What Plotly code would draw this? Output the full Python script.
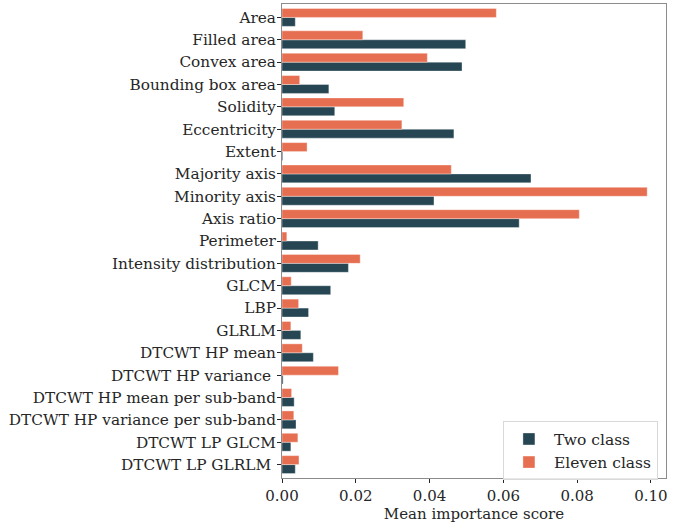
import plotly.graph_objects as go

# Feature groups, listed top to bottom
features = [
    "Area", "Filled area", "Convex area", "Bounding box area", "Solidity",
    "Eccentricity", "Extent", "Majority axis", "Minority axis", "Axis ratio",
    "Perimeter", "Intensity distribution", "GLCM", "LBP", "GLRLM",
    "DTCWT HP mean", "DTCWT HP variance ", "DTCWT HP mean per sub-band",
    "DTCWT HP variance per sub-band", "DTCWT LP GLCM", "DTCWT LP GLRLM ",
]

# Mean importance scores per feature group
two_class = [
    0.0036, 0.0498, 0.0488, 0.0127, 0.0143,
    0.0466, 0.0002, 0.0675, 0.0412, 0.0643,
    0.0098, 0.0180, 0.0132, 0.0072, 0.0051,
    0.0085, 0.0003, 0.0033, 0.0038, 0.0024, 0.0036,
]
eleven_class = [
    0.0581, 0.0219, 0.0394, 0.0048, 0.0330,
    0.0325, 0.0068, 0.0459, 0.0990, 0.0806,
    0.0013, 0.0212, 0.0025, 0.0045, 0.0024,
    0.0055, 0.0153, 0.0026, 0.0032, 0.0043, 0.0046,
]

x_ticks = [0.0, 0.02, 0.04, 0.06, 0.08, 0.10]

DARK = "#264653"
ORANGE = "#e76f51"
FONT = "DejaVu Serif"
TEXT = "#262626"

fig = go.Figure()
fig.add_trace(go.Bar(
    y=features, x=two_class, orientation="h", name="Two class",
    marker=dict(color=DARK, line=dict(color="rgba(255,255,255,0.6)", width=0.6)),
))
fig.add_trace(go.Bar(
    y=features, x=eleven_class, orientation="h", name="Eleven class",
    marker=dict(color=ORANGE, line=dict(color="rgba(255,255,255,0.6)", width=0.6)),
))

fig.update_layout(
    width=684, height=523,
    margin=dict(l=282, r=18, t=3, b=39),
    paper_bgcolor="white", plot_bgcolor="white",
    barmode="group", bargap=0.2, bargroupgap=0,
    font=dict(family=FONT, size=15, color=TEXT),
    showlegend=True,
    legend=dict(
        x=0.979, y=-0.005, xanchor="right", yanchor="bottom",
        bgcolor="rgba(255,255,255,0.8)", bordercolor="#d9d9d9", borderwidth=1,
        font=dict(family=FONT, size=15.5, color=TEXT),
        traceorder="normal", itemwidth=40,
    ),
)

fig.update_xaxes(
    range=[0, 0.1041], tickvals=x_ticks, tickformat=".2f",
    ticks="outside", ticklen=4, tickcolor=TEXT,
    showgrid=False, zeroline=False,
    showline=True, linecolor="#8c8c8c", linewidth=1, mirror=True,
    title=dict(text="Mean importance score", font=dict(family=FONT, size=15, color=TEXT), standoff=4),
    tickfont=dict(family=FONT, size=15, color=TEXT),
)
fig.update_yaxes(
    type="category", categoryorder="array", categoryarray=list(reversed(features)),
    range=[-0.6, len(features) - 0.4],
    ticks="outside", ticklen=4, tickcolor=TEXT,
    showgrid=False, zeroline=False,
    showline=True, linecolor="#8c8c8c", linewidth=1, mirror=True,
    tickfont=dict(family=FONT, size=15.3, color=TEXT),
    ticklabelstandoff=-2,
)

fig.write_html("out.html")
